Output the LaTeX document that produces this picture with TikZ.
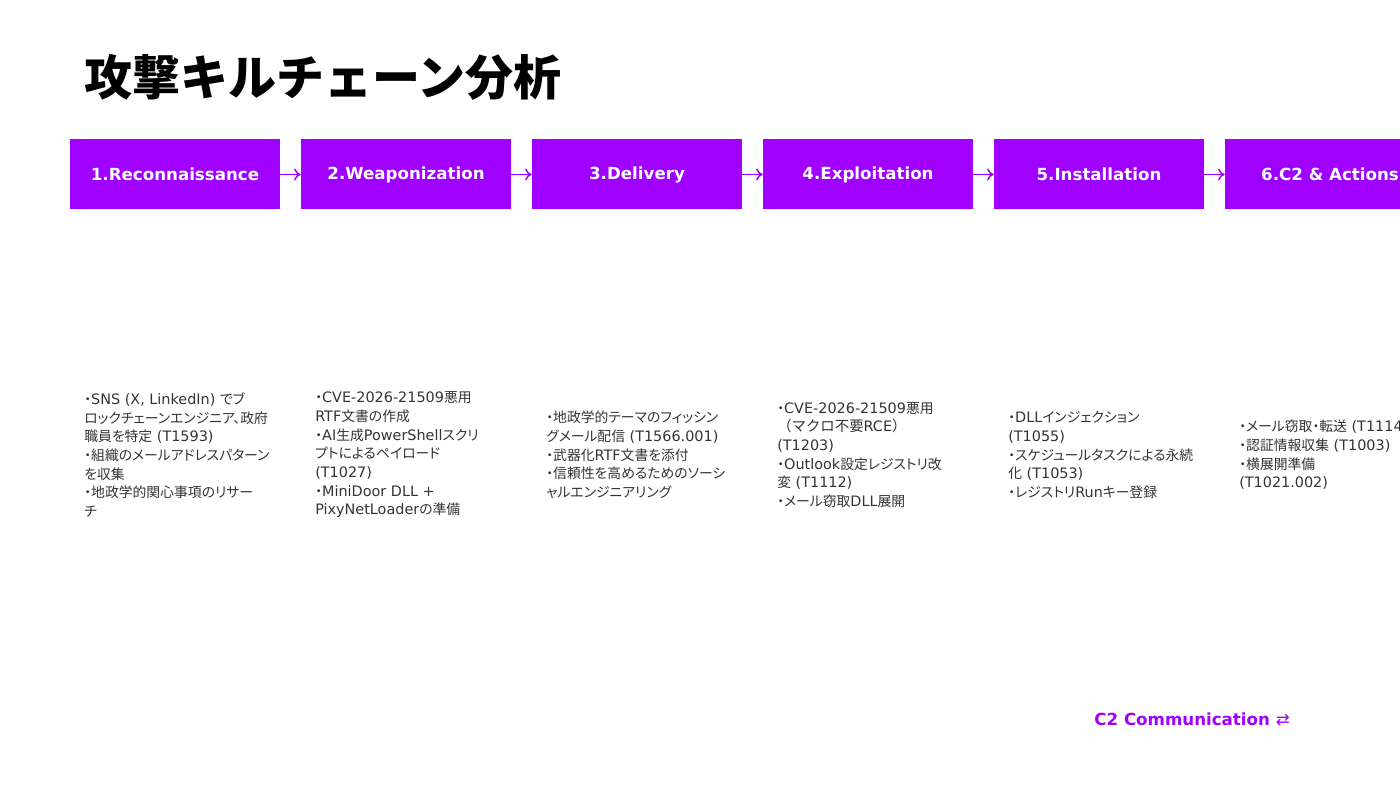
\documentclass[tikz,border=0pt]{standalone}
\usepackage{fontspec}
\setmainfont{DejaVu Sans}
\newfontfamily\cjkpalt{Noto Sans CJK JP}[RawFeature=+palt, Scale=0.96]
\newfontfamily\cjkfull{Noto Sans CJK JP}
\newcommand\cjkfamily{\cjkpalt}
\newcommand\latinfamily{\rmfamily}
\newXeTeXintercharclass\cjkcls
\newcount\kcnt
\newcommand\setcjkrange[2]{%
  \kcnt=#1\relax
  \loop
    \XeTeXcharclass\kcnt=\cjkcls
    \ifnum\kcnt<#2\relax \advance\kcnt by 1
  \repeat}
\setcjkrange{"3000}{"30FF}
\setcjkrange{"4E00}{"9FFF}
\setcjkrange{"FF00}{"FFEF}
\XeTeXinterchartoks 0 \cjkcls = {\cjkfamily}
\XeTeXinterchartoks 4095 \cjkcls = {\cjkfamily}
\XeTeXinterchartoks \cjkcls 0 = {\latinfamily}
\XeTeXinterchartoks \cjkcls 4095 = {\latinfamily}
\XeTeXinterchartokenstate=1
\usetikzlibrary{arrows.meta}
\definecolor{kcpurple}{HTML}{A000FF}
\definecolor{kctext}{HTML}{333333}
\tikzset{
  stagebox/.style={fill=kcpurple, draw=none, minimum width=157.5pt, minimum height=52.5pt, inner sep=0pt,
    text=white, font=\fontsize{12.5}{15}\selectfont\bfseries},
  flow/.style={draw=kcpurple, line width=1.1pt, -{To[length=5pt,width=9pt]}},
  bodytext/.style={anchor=west, align=left, inner sep=0pt, text=kctext,
    font=\fontsize{10.8}{14}\selectfont},
  titletext/.style={anchor=base west, inner sep=0pt,
    font=\renewcommand\cjkfamily{\cjkfull}\fontsize{36}{40}\selectfont\bfseries},
}
\begin{document}
\begin{tikzpicture}[x=0.75pt, y=-0.75pt]
\useasboundingbox (0,0) rectangle (1400,787);
\clip (0,0) rectangle (1400,787);
\node[titletext] (title) at (84,96) {攻撃キルチェーン分析};

\node[stagebox] (s1) at (175,174.5) {1.Reconnaissance};
\node[stagebox] (s2) at (406,174.5) {2.Weaponization};
\node[stagebox] (s3) at (637,174.5) {3.Delivery};
\node[stagebox] (s4) at (868,174.5) {4.Exploitation};
\node[stagebox] (s5) at (1099,174.5) {5.Installation};
\node[stagebox] (s6) at (1330,174.5) {6.C2 \& Actions};

\draw[flow] (s1.east) -- (s2.west);
\draw[flow] (s2.east) -- (s3.west);
\draw[flow] (s3.east) -- (s4.west);
\draw[flow] (s4.east) -- (s5.west);
\draw[flow] (s5.east) -- (s6.west);

\node[bodytext] (t1) at (84,455) {・SNS (X, LinkedIn) でブ\\ロックチェーンエンジニア、政府\\職員を特定 (T1593)\\・組織のメールアドレスパターン\\を収集\\・地政学的関心事項のリサー\\チ};
\node[bodytext] (t2) at (315,455) {・CVE-2026-21509悪用\\RTF文書の作成\\・AI生成PowerShellスクリ\\プトによるペイロード\\(T1027)\\・MiniDoor DLL +\\PixyNetLoaderの準備};
\node[bodytext] (t3) at (546,455) {・地政学的テーマのフィッシン\\グメール配信 (T1566.001)\\・武器化RTF文書を添付\\・信頼性を高めるためのソーシ\\ャルエンジニアリング};
\node[bodytext] (t4) at (777,455) {・CVE-2026-21509悪用\\{\renewcommand\cjkfamily{\cjkfull}（マクロ不要RCE）}\\(T1203)\\・Outlook設定レジストリ改\\変 (T1112)\\・メール窃取DLL展開};
\node[bodytext] (t5) at (1008,455) {・DLLインジェクション\\(T1055)\\・スケジュールタスクによる永続\\化 (T1053)\\・レジストリRunキー登録};
\node[bodytext] (t6) at (1239,455) {・メール窃取・転送 (T1114)\\・認証情報収集 (T1003)\\・横展開準備\\(T1021.002)};

\node[anchor=east, inner sep=0pt, text=kcpurple, font=\fontsize{12.5}{15}\selectfont\bfseries] (c2) at (1290,720) {C2 Communication {\mdseries ⇄}};
\end{tikzpicture}
\end{document}
